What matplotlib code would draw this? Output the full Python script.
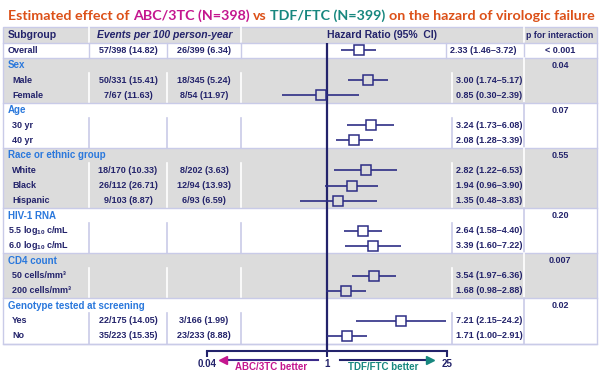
import matplotlib
matplotlib.use('Agg')
import matplotlib.pyplot as plt
from matplotlib.patches import Rectangle
from matplotlib.ticker import NullLocator

plt.rcParams['font.family'] = 'Liberation Sans'
plt.rcParams['mathtext.fontset'] = 'custom'
plt.rcParams['mathtext.rm'] = 'Liberation Sans:bold'
plt.rcParams['mathtext.bf'] = 'Liberation Sans:bold'
plt.rcParams['mathtext.it'] = 'Liberation Sans:bold:italic'

# ---- data ----
overall_abc = "57/398 (14.82)"
overall_tdf = "26/399 (6.34)"
overall_hr, overall_lo, overall_hi = 2.33, 1.46, 3.72
overall_p = "< 0.001"

group_names = ["Sex", "Age", "Race or ethnic group", "HIV-1 RNA", "CD4 count",
               "Genotype tested at screening"]
group_p = ["0.04", "0.07", "0.55", "0.20", "0.007", "0.02"]
group_sizes = [2, 2, 3, 2, 2, 2]

labels = ["Male", "Female", "30 yr", "40 yr", "White", "Black", "Hispanic",
          "5.5 log$_{10}$ c/mL", "6.0 log$_{10}$ c/mL",
          "50 cells/mm\u00b3", "200 cells/mm\u00b3", "Yes", "No"]
abc_events = ["50/331 (15.41)", "7/67 (11.63)", "", "", "18/170 (10.33)",
              "26/112 (26.71)", "9/103 (8.87)", "", "", "", "",
              "22/175 (14.05)", "35/223 (15.35)"]
tdf_events = ["18/345 (5.24)", "8/54 (11.97)", "", "", "8/202 (3.63)",
              "12/94 (13.93)", "6/93 (6.59)", "", "", "", "",
              "3/166 (1.99)", "23/233 (8.88)"]
hr = [3.00, 0.85, 3.24, 2.08, 2.82, 1.94, 1.35, 2.64, 3.39, 3.54, 1.68, 7.21, 1.71]
lo = [1.74, 0.30, 1.73, 1.28, 1.22, 0.96, 0.48, 1.58, 1.60, 1.97, 0.98, 2.15, 1.00]
hi = [5.17, 2.39, 6.08, 3.39, 6.53, 3.90, 3.83, 4.40, 7.22, 6.36, 2.88, 24.2, 2.91]

title_parts = ["Estimated effect of", "ABC/3TC (N=398)", "vs", "TDF/FTC (N=399)",
               "on the hazard of virologic failure"]

# ---- colours ----
navy = "#23236b"
line_c = "#2d2d85"
blue = "#2a78dc"
orange = "#dc5018"
magenta = "#c4168f"
teal = "#17877f"
gray = "#dcdcdc"
lav = "#c9cbe8"
title_colors = [orange, magenta, orange, teal, orange]

fig = plt.figure(figsize=(6, 3.79), dpi=100)
fig.patch.set_facecolor('white')
bg = fig.add_axes([0, 0, 1, 1])
bg.set_xlim(0, 600)
bg.set_ylim(379, 0)
bg.axis('off')


def ry(i):
    return 35 + 15.05 * i


# title, pieces coloured separately
renderer = fig.canvas.get_renderer()


def draw_title(size):
    sp = bg.text(0, 0, "x x", fontsize=size, fontweight='bold', family='Lato')
    nsp = bg.text(0, 0, "xx", fontsize=size, fontweight='bold', family='Lato')
    gap = sp.get_window_extent(renderer).width - nsp.get_window_extent(renderer).width
    sp.remove()
    nsp.remove()
    x = 8
    arts = []
    for s, c in zip(title_parts, title_colors):
        t = bg.text(x, 20, s, color=c, fontsize=size, fontweight='bold',
                    family='Lato', va='baseline', ha='left')
        arts.append(t)
        x += t.get_window_extent(renderer).width + gap
    return arts, x - gap - 8


arts, w = draw_title(11)
for a in arts:
    a.remove()
draw_title(11 * 584 / w)

# header row
left, right = 3, 597
bg.add_patch(Rectangle((left, ry(-0.5)), right - left, 15.05, color=gray, lw=0))
for x in [89, 241, 524]:
    bg.plot([x, x], [ry(-0.5), ry(0.5)], color='white', lw=1.2)
bg.text(8, ry(0), "Subgroup", fontsize=7.5, fontweight='bold', color=navy, va='center')
bg.text(165, ry(0), "Events per 100 person-year", fontsize=7.5, fontweight='bold',
        style='italic', color=navy, va='center', ha='center')
bg.text(382, ry(0), "Hazard Ratio (95%  CI)", fontsize=7.5, fontweight='bold',
        color=navy, va='center', ha='center')
bg.text(560, ry(0), "p for interaction", fontsize=6.3, fontweight='bold',
        color=navy, va='center', ha='center')

# overall row
for x in [89, 167, 241, 446, 524]:
    bg.plot([x, x], [ry(0.5), ry(1.5)], color=lav, lw=1)
bg.plot([left, right], [ry(0.5), ry(0.5)], color=lav, lw=1)
bg.text(8, ry(1), "Overall", fontsize=6.5, fontweight='bold', color=navy, va='center')
bg.text(128, ry(1), overall_abc, fontsize=6.5, fontweight='bold', color=navy,
        va='center', ha='center')
bg.text(204, ry(1), overall_tdf, fontsize=6.5, fontweight='bold', color=navy,
        va='center', ha='center')
bg.text(450, ry(1), f"{overall_hr:.2f} ({overall_lo:.2f}\u2013{overall_hi:.2f})",
        fontsize=6.5, fontweight='bold', color=navy, va='center', ha='left')
bg.text(560, ry(1), overall_p, fontsize=6.5, fontweight='bold', color=navy,
        va='center', ha='center')

# groups
rows = []
row_bg = []
r = 2
k = 0
for gi, (name, p, n) in enumerate(zip(group_names, group_p, group_sizes)):
    fill = gray if gi % 2 == 0 else 'white'
    sep = 'white' if gi % 2 == 0 else lav
    top, bot = ry(r - 0.5), ry(r + n + 0.5)
    bg.add_patch(Rectangle((left, top), right - left, bot - top, color=fill, lw=0))
    bg.plot([left, right], [top, top], color=lav, lw=1)
    for x in [89, 167, 241, 452]:
        bg.plot([x, x], [ry(r + 0.5), bot], color=sep, lw=1.2)
    bg.plot([524, 524], [top, bot], color=sep, lw=1.2)
    bg.text(8, ry(r), name, fontsize=7, fontweight='bold', color=blue, va='center')
    bg.text(560, ry(r), p, fontsize=6.5, fontweight='bold', color=navy,
            va='center', ha='center')
    for j in range(n):
        yy = ry(r + 1 + j)
        lx = 8 if 'log' in labels[k] else 12
        bg.text(lx, yy, labels[k], fontsize=6.5, fontweight='bold', color=navy, va='center')
        bg.text(128, yy, abc_events[k], fontsize=6.5, fontweight='bold', color=navy,
                va='center', ha='center')
        bg.text(204, yy, tdf_events[k], fontsize=6.5, fontweight='bold', color=navy,
                va='center', ha='center')
        bg.text(456, yy, f"{hr[k]:.2f} ({lo[k]:.2f}\u2013{hi[k]:.3g})" if hi[k] > 10
                else f"{hr[k]:.2f} ({lo[k]:.2f}\u2013{hi[k]:.2f})",
                fontsize=6.5, fontweight='bold', color=navy, va='center', ha='left')
        rows.append(r + 1 + j)
        row_bg.append(fill)
        k += 1
    r += n + 1
bg.plot([left, right], [ry(r - 0.5), ry(r - 0.5)], color=lav, lw=1)
bg.add_patch(Rectangle((left, ry(-0.5)), right - left, ry(r - 0.5) - ry(-0.5),
                       fill=False, ec=lav, lw=1))

# forest plot
fx = fig.add_axes([207 / 600, 1 - 351 / 379, 240 / 600, 308 / 379])
fx.set_xscale('log')
fx.set_xlim(0.04, 25)
fx.set_ylim((351 - 35) / 15.05, (43 - 35) / 15.05)
fx.patch.set_visible(False)
for s in ['top', 'left', 'right']:
    fx.spines[s].set_visible(False)
fx.spines['bottom'].set_color(navy)
fx.spines['bottom'].set_linewidth(1.5)
fx.set_xticks([0.04, 1, 25])
fx.set_xticklabels(['0.04', '1', '25'])
fx.xaxis.set_minor_locator(NullLocator())
fx.tick_params(axis='x', length=4, width=1.5, color=navy, labelsize=7,
               labelcolor=navy, pad=1.5)
for lbl in fx.get_xticklabels():
    lbl.set_fontweight('bold')
fx.set_yticks([])
fx.axvline(1, color=navy, lw=1.6)

fx.hlines([1], [overall_lo], [overall_hi], color=line_c, lw=1.2)
fx.plot([overall_hr], [1], marker='s', ms=6.5, mfc='white', mec=line_c, mew=1.1)
fx.hlines(rows, lo, hi, color=line_c, lw=1.2)
for h, yy, c in zip(hr, rows, row_bg):
    fx.plot([h], [yy], marker='s', ms=6.5, mfc=c, mec=line_c, mew=1.1)

# direction arrows
ya = -0.029
fx.plot([0.08, 0.4625], [ya, ya], color='#3a2a8a', lw=1.5, transform=fx.transAxes, clip_on=False)
fx.plot([0.065], [ya], marker='<', ms=6, color=magenta, transform=fx.transAxes, clip_on=False)
fx.plot([0.554, 0.915], [ya, ya], color=navy, lw=1.5, transform=fx.transAxes, clip_on=False)
fx.plot([0.93], [ya], marker='>', ms=6, color=teal, transform=fx.transAxes, clip_on=False)
fx.text(0.267, -0.053, "ABC/3TC better", color=magenta, fontsize=7, fontweight='bold',
        ha='center', va='center', transform=fx.transAxes)
fx.text(0.733, -0.053, "TDF/FTC better", color=teal, fontsize=7, fontweight='bold',
        ha='center', va='center', transform=fx.transAxes)

fig.savefig('out.png', dpi=100)
